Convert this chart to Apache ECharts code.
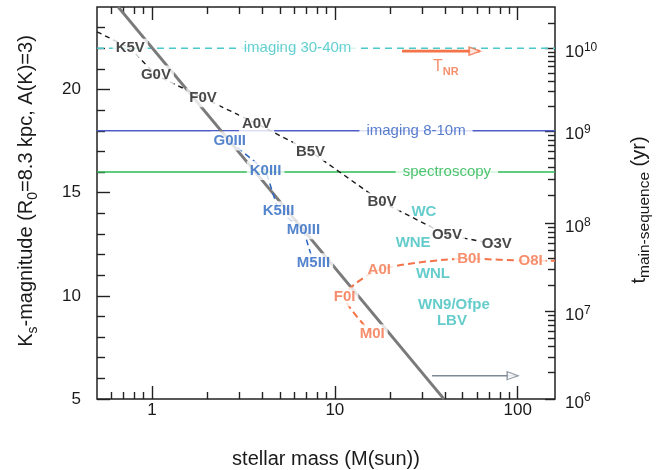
<!DOCTYPE html>
<html>
<head>
<meta charset="utf-8">
<script src="https://cdn.jsdelivr.net/npm/echarts@6/dist/echarts.min.js"></script>
<style>
  html, body { margin: 0; padding: 0; background: #fff; }
  #chart { width: 662px; height: 470px; }
</style>
</head>
<body>
<div id="chart"></div>
<script>
// ---- axes -------------------------------------------------------------
const massRange = [0.5, 160];                 // stellar mass, M(sun)
const kmagRange = [5, 24];                    // K_s magnitude
const massMajorTicks = [1, 10, 100];
const massMinorTicks = [0.6, 0.7, 0.8, 0.9, 2, 3, 4, 5, 6, 7, 8, 9,
                        20, 30, 40, 50, 60, 70, 80, 90];
const kmagMajorTicks = [5, 10, 15, 20];
const kmagMinorTicks = [6, 7, 8, 9, 11, 12, 13, 14, 16, 17, 18, 19, 21, 22, 23];
// main-sequence lifetime decades (yr) and the K_s magnitude each sits at
const lifetimeExponents = [6, 7, 8, 9, 10];
const lifetimeDecadeKmag = [5, 9.24, 13.5, 18, 22];

// ---- main sequence (dwarfs) ------------------------------------------
const dwarfTypes = ['', 'K5V', 'G0V', 'F0V', 'A0V', 'B5V', 'B0V', 'O5V', 'O3V'];
const dwarfMass  = [0.5, 0.76, 1.05, 1.9, 3.73, 7.36, 18.1, 41.0, 76.8];
const dwarfKmag  = [22.8, 22.0, 20.7, 19.6, 18.35, 17.0, 14.55, 12.95, 12.5];

// ---- giants ------------------------------------------------------------
const giantTypes = ['G0III', 'K0III', 'K5III', 'M0III', 'M5III'];
const giantMass  = [2.66, 4.18, 4.92, 6.73, 7.64];
const giantKmag  = [17.5, 16.07, 14.13, 13.2, 11.6];

// ---- supergiants -------------------------------------------------------
const superTypes = ['M0I', 'F0I', 'A0I', 'B0I', 'O8I', ''];
const superMass  = [16.0, 11.3, 17.5, 54.1, 117.7, 160];
const superKmag  = [8.16, 9.95, 11.26, 11.8, 11.7, 11.7];

// ---- Wolf-Rayet / LBV classes ------------------------------------------
const wrTypes = ['WC', 'WNE', 'WNL', 'WN9/Ofpe', 'LBV'];
const wrMass  = [30.7, 26.8, 34.4, 44.8, 43.7];
const wrKmag  = [14.08, 12.57, 11.07, 9.56, 8.79];

// ---- main-sequence lifetime relation (grey line) -----------------------
const msLineMass = [0.653, 39.5];
const msLineKmag = [24, 5];

// ---- observational limits ---------------------------------------------
const limitNames = ['imaging 30-40m', 'imaging 8-10m', 'spectroscopy'];
const limitKmag  = [22, 18, 16];
const limitTextMass = [6.25, 27.8, 41.0];

// ---- arrows ------------------------------------------------------------
const tnrArrowMass = [23.3, 62];
const tnrArrowKmag = [21.86, 21.86];
const tnrTextMass = 40.5; const tnrTextKmag = 21.1;
const lowerArrowMass = [34, 100];
const lowerArrowKmag = [6.13, 6.13];

// ------------------------------------------------------------------------
const FONT = '"Liberation Sans", Arial, Helvetica, sans-serif';
const BLACK = '#1a1a1a';
const limitColors = ['#4cc9c9', '#4d5cc8', '#2dbb55'];
const limitTextColors = ['#3fc4c4', '#2e5cc0', '#22b54c'];
const limitLineTypes = [[7, 5], 'solid', 'solid'];
const ORANGE = '#f47348';
const GIANT_BLUE = '#2a66c0';
const TEAL = '#3fbfbf';

function pairs(xs, ys) { return xs.map((x, i) => [x, ys[i]]); }
function named(names, xs, ys) {
  return names.map((n, i) => ({ name: n, value: [xs[i], ys[i]] })).filter(d => d.name !== '');
}

// minor ticks of the lifetime axis: 2..9 x 10^n inside each decade
const lifetimeMinorKmag = [];
for (let i = 0; i < lifetimeDecadeKmag.length; i++) {
  const lo = lifetimeDecadeKmag[i];
  const hi = i + 1 < lifetimeDecadeKmag.length ? lifetimeDecadeKmag[i + 1] : lo + 4;
  for (let k = 2; k <= 9; k++) {
    const v = lo + Math.log10(k) * (hi - lo);
    if (v < kmagRange[1] - 0.3) lifetimeMinorKmag.push(v);
  }
}

function labelSeries(data, color, fontSize, fontWeight, bg, z) {
  return {
    type: 'scatter', data, z: z || 10, silent: true,
    symbol: 'circle', symbolSize: 1, itemStyle: { color: 'rgba(0,0,0,0)' },
    label: {
      show: true, position: 'inside', formatter: '{b}',
      color, fontSize, fontWeight, fontFamily: FONT,
      backgroundColor: bg ? '#ffffff' : 'transparent', padding: bg ? [1, 3] : 0,
      lineHeight: fontSize + 2
    }
  };
}

const series = [];

// observational limits
limitKmag.forEach((k, i) => {
  series.push({
    type: 'line', z: 1, silent: true, symbol: 'none',
    data: [[massRange[0], k], [massRange[1], k]],
    lineStyle: { color: limitColors[i], width: 1.6, type: limitLineTypes[i] }
  });
});
series.push(labelSeries(
  limitNames.map((n, i) => ({ name: n, value: [limitTextMass[i], limitKmag[i]] })),
  BLACK, 15, 'normal', true, 6));
series[series.length - 1].data.forEach((d, i) => { d.label = { color: limitTextColors[i], padding: [1, 7] }; });

// main-sequence lifetime relation
series.push({
  type: 'line', z: 2, silent: true, symbol: 'none',
  data: pairs(msLineMass, msLineKmag),
  lineStyle: { color: '#7a7a7a', width: 2.8 }
});

// spectral sequences
series.push({
  type: 'line', z: 3, silent: true, symbol: 'none',
  data: pairs(dwarfMass, dwarfKmag),
  lineStyle: { color: BLACK, width: 1.4, type: [5, 4] }
});
series.push({
  type: 'line', z: 3, silent: true, symbol: 'none',
  data: pairs(giantMass, giantKmag),
  lineStyle: { color: GIANT_BLUE, width: 1.5, type: [6, 4] }
});
series.push({
  type: 'line', z: 3, silent: true, symbol: 'none', smooth: 0.25,
  data: pairs(superMass, superKmag),
  lineStyle: { color: ORANGE, width: 2, type: [7, 4] }
});

// arrows
series.push({
  type: 'line', z: 3, silent: true, symbol: 'none',
  data: pairs(tnrArrowMass, tnrArrowKmag),
  lineStyle: { color: ORANGE, width: 2.6 }
});
series.push({
  type: 'line', z: 3, silent: true, symbol: 'none',
  data: pairs(lowerArrowMass, lowerArrowKmag),
  lineStyle: { color: '#7d8996', width: 1.4 }
});
series.push({
  type: 'scatter', z: 4, silent: true,
  symbol: 'triangle', symbolRotate: -90, symbolSize: [8, 11], symbolOffset: [-5, 0],
  data: [
    { value: [tnrArrowMass[1], tnrArrowKmag[1]], itemStyle: { color: '#fff', borderColor: ORANGE, borderWidth: 1.6 } },
    { value: [lowerArrowMass[1], lowerArrowKmag[1]], itemStyle: { color: '#fff', borderColor: '#7d8996', borderWidth: 1.3 } }
  ]
});

// class labels
series.push(labelSeries(named(dwarfTypes, dwarfMass, dwarfKmag), BLACK, 15, 'bold', true));
series.push(labelSeries(named(giantTypes, giantMass, giantKmag), GIANT_BLUE, 15, 'bold', true));
series.push(labelSeries(named(superTypes, superMass, superKmag), ORANGE, 15, 'bold', true));
series.push(labelSeries(named(wrTypes, wrMass, wrKmag), TEAL, 15, 'bold', false));
series.push({
  type: 'scatter', z: 10, silent: true, symbolSize: 1, itemStyle: { color: 'rgba(0,0,0,0)' },
  data: [{ name: 'TNR', value: [tnrTextMass, tnrTextKmag] }],
  label: {
    show: true, position: 'inside', formatter: '{t|T}{s|NR}',
    rich: {
      t: { fontSize: 16, lineHeight: 22, color: ORANGE, fontFamily: FONT },
      s: { fontSize: 11, lineHeight: 11, verticalAlign: 'bottom', color: ORANGE, fontWeight: 'bold', fontFamily: FONT }
    }
  }
});

const tickStyle = { color: '#222', width: 1.4 };
function massAxis(position, ticks, len, showLabels) {
  return {
    type: 'log', logBase: 10, position, min: massRange[0], max: massRange[1],
    axisLine: { show: false },
    splitLine: { show: false },
    axisTick: { show: true, inside: true, length: len, lineStyle: tickStyle, customValues: ticks },
    axisLabel: showLabels ? {
      show: true, customValues: ticks, margin: 3, fontSize: 17, color: BLACK, fontFamily: FONT,
      formatter: v => String(Math.round(v))
    } : { show: false },
    minorTick: { show: false }
  };
}
function kmagAxis(position, ticks, len, labels) {
  return {
    type: 'value', position, min: kmagRange[0], max: kmagRange[1],
    axisLine: { show: false },
    splitLine: { show: false },
    axisTick: { show: true, inside: true, length: len, lineStyle: tickStyle, customValues: ticks },
    axisLabel: labels || { show: false }
  };
}

const xAxes = [
  Object.assign(massAxis('bottom', massMajorTicks, 13, true), {
    name: 'stellar mass (M(sun))', nameLocation: 'middle', nameGap: 50,
    nameTextStyle: { fontSize: 20, color: BLACK, fontFamily: FONT }
  }),
  massAxis('bottom', massMinorTicks, 7, false),
  massAxis('top', massMajorTicks, 13, false),
  massAxis('top', massMinorTicks, 7, false)
];

const yAxes = [
  Object.assign(kmagAxis('left', kmagMajorTicks, 13, {
    show: true, customValues: kmagMajorTicks, margin: 16, fontSize: 17, color: BLACK, fontFamily: FONT
  }), {
    name: '{m|K}{sub|s}{m|-magnitude (R}{sub|0}{m|=8.3 kpc, A(K)=3)}',
    nameLocation: 'middle', nameGap: 57,
    nameTextStyle: {
      color: BLACK, fontFamily: FONT, padding: [0, 0, 0, 24],
      rich: {
        m: { fontSize: 20, lineHeight: 28, color: BLACK, fontFamily: FONT },
        sub: { fontSize: 14, lineHeight: 14, verticalAlign: 'bottom', color: BLACK, fontFamily: FONT }
      }
    }
  }),
  kmagAxis('left', kmagMinorTicks, 8),
  Object.assign(kmagAxis('right', lifetimeDecadeKmag, 10, {
    show: true, customValues: lifetimeDecadeKmag, margin: 10, fontFamily: FONT,
    formatter: v => {
      const i = lifetimeDecadeKmag.findIndex(k => Math.abs(k - v) < 1e-6);
      return '{b|10}{p|' + lifetimeExponents[i] + '}';
    },
    padding: [8, 0, 0, 0],
    rich: {
      b: { fontSize: 17, lineHeight: 22, color: BLACK, fontFamily: FONT },
      p: { fontSize: 12, lineHeight: 12, verticalAlign: 'top', color: BLACK, fontFamily: FONT }
    }
  }), {
    name: '{m|t}{sub|main-sequence}{m| (yr)}',
    nameLocation: 'middle', nameGap: 70,
    nameTextStyle: {
      color: BLACK, fontFamily: FONT, padding: [0, 14, 0, 0],
      rich: {
        m: { fontSize: 20, lineHeight: 28, color: BLACK, fontFamily: FONT },
        sub: { fontSize: 15.5, lineHeight: 15, verticalAlign: 'bottom', color: BLACK, fontFamily: FONT }
      }
    }
  }),
  kmagAxis('right', lifetimeMinorKmag, 7)
];

const chart = echarts.init(document.getElementById('chart'), null, { renderer: 'canvas' });
chart.setOption({
  animation: false,
  backgroundColor: '#ffffff',
  textStyle: { fontFamily: FONT },
  grid: {
    left: 97, right: 107, top: 7, bottom: 71, outerBoundsMode: 'none',
    show: true, borderColor: '#222', borderWidth: 1.5, backgroundColor: 'transparent'
  },
  xAxis: xAxes,
  yAxis: yAxes,
  series: series
});
</script>
</body>
</html>
